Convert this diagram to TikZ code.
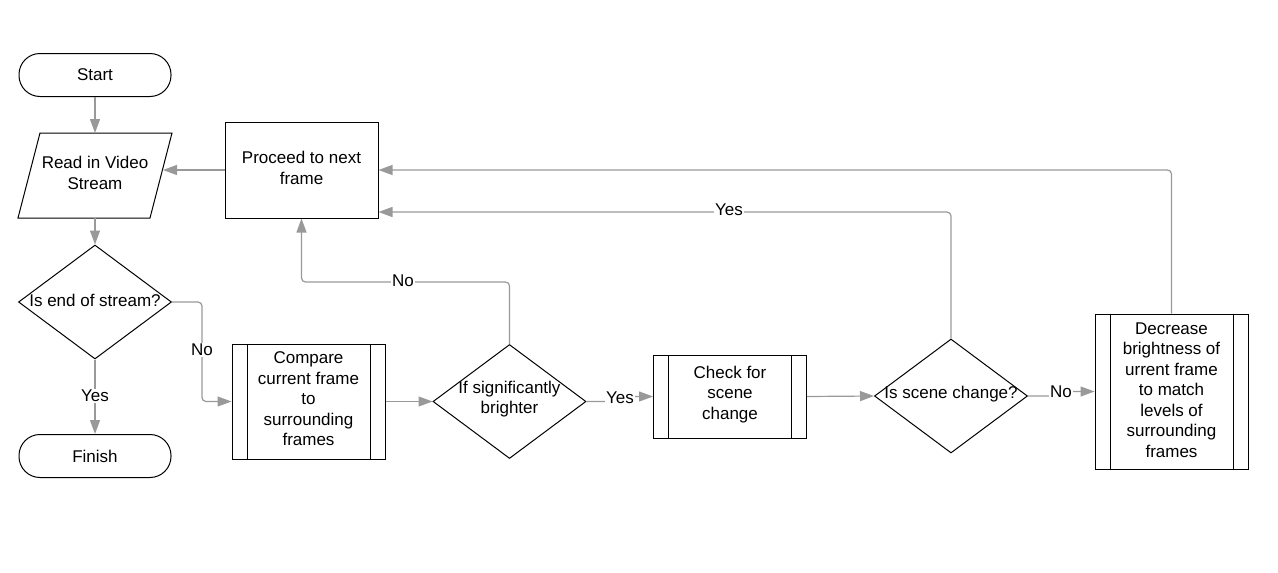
\documentclass[tikz,border=0pt]{standalone}
\usepackage{fontspec}
\setmainfont{Liberation Sans}
\usetikzlibrary{arrows.meta,shapes.geometric}
\definecolor{conncol}{HTML}{999999}
\begin{document}
\begin{tikzpicture}[x=1pt,y=-1pt,
  font=\fontsize{17}{20.5}\selectfont,
  box/.style={draw=black, line width=1pt, fill=white, inner sep=0pt, align=center},
  term/.style={box, rounded corners=21pt, minimum width=152pt, minimum height=43pt},
  rectbox/.style={box, minimum width=153pt},
  procbox/.style={box, minimum width=153pt,
    path picture={
      \draw[line width=1pt] ([xshift=15pt]path picture bounding box.north west) -- ([xshift=15pt]path picture bounding box.south west);
      \draw[line width=1pt] ([xshift=-15pt]path picture bounding box.north east) -- ([xshift=-15pt]path picture bounding box.south east);
    }},
  dia/.style={draw=black, line width=1pt, fill=white, diamond, inner sep=0pt, minimum width=153pt, minimum height=114pt},
  txt/.style={align=center, inner sep=0pt},
  conn/.style={draw=conncol, line width=1.2pt, rounded corners=4pt, -{Triangle[length=14pt,width=10pt]}},
  lbl/.style={fill=white, inner sep=1.5pt}]
\useasboundingbox (0,0) rectangle (1278,573);

% connectors first (nodes drawn on top later are filled)
\coordinate (readtop) at (95,133);
\coordinate (readbot) at (95,218);
\coordinate (readin) at (163,170);

% nodes
\node[term] (start) at (95,75) {Start};
\draw[line width=1pt, fill=white] (40,133) -- (172,133) -- (150,218) -- (18,218) -- cycle;
\node[txt] (read) at (95,173) {Read in Video\\Stream};
\node[dia] (d1) at (95,302) {};
\node[txt] (d1t) at (95,300) {Is end of stream?};
\node[term] (finish) at (95,456) {Finish};
\node[rectbox, minimum height=96pt] (proceed) at (301.5,170) {};
\node[txt] (proceedt) at (301.5,168) {Proceed to next\\frame};
\node[procbox, minimum height=115pt] (compare) at (308.5,401.5) {};
\node[txt] (comparet) at (308.5,399) {Compare\\current frame\\to\\surrounding\\frames};
\node[dia] (d2) at (509.5,401.5) {};
\node[txt] (d2t) at (509.5,399) {If significantly\\brighter};
\node[procbox, minimum height=83pt] (check) at (730,396.5) {};
\node[txt] (checkt) at (730,394.5) {Check for\\scene\\change};
\node[dia] (d3) at (951,396) {};
\node[txt] (d3t) at (951,394) {Is scene change?};
\node[procbox, minimum height=155pt] (decrease) at (1171.5,391.5) {};
\node[txt] (decreaset) at (1171.5,390) {Decrease\\brightness of\\urrent frame\\to match\\levels of\\surrounding\\frames};

% connectors
\draw[conn] (start) -- (readtop);
\draw[conn] (readbot) -- (d1.north);
\draw[conn] (d1.south) -- (finish.north);
\node[lbl] (yes1) at (95,396) {Yes};
\draw[conn] (d1.east) -- (202,302) -- (202,401.5) -- (compare.west);
\node[lbl] (no1) at (202,350) {No};
\draw[conn] (compare.east) -- (d2.west);
\draw[conn] (d2.north) -- (509.5,282) -- (301.5,282) -- (proceed.south);
\node[lbl] (no2) at (403,281) {No};
\draw[conn] (d2.east) -- (620,401.5) -- (620,396.5) -- (check.west);
\node[lbl] (yes2) at (620,398) {Yes};
\draw[conn] (check.east) -- (d3.west);
\draw[conn] (d3.north) |- (proceed.east |- 0,212);
\node[lbl] (yes3) at (729,210) {Yes};
\draw[conn] (d3.east) -- (1061,396) -- (1061,391.5) -- (decrease.west);
\node[lbl] (no3) at (1061,392) {No};
\draw[conn] (decrease.north) |- (proceed.east);
\draw[conn] (proceed.west) -- (readin);
\end{tikzpicture}
\end{document}
